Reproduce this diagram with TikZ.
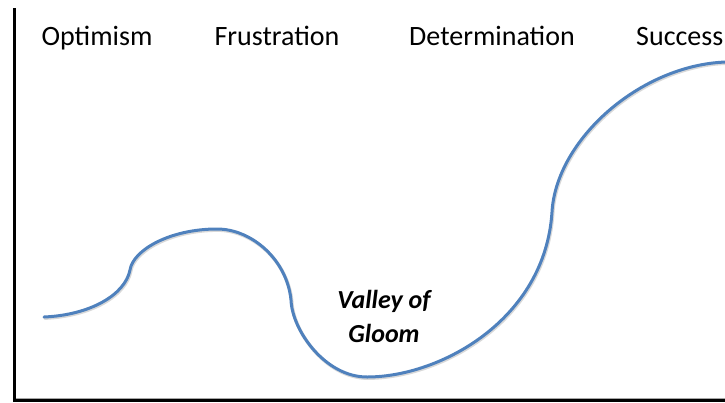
\documentclass[tikz,border=0pt]{standalone}
\usepackage{fontspec}
\setmainfont{Carlito}
\definecolor{curveblue}{HTML}{4F81BD}
\tikzset{
  axisline/.style={draw=black, line width=3pt},
  phase/.style={font=\fontsize{28}{32}\selectfont, inner sep=0pt, anchor=base},
  gloom/.style={font=\fontsize{26}{30}\selectfont\bfseries\itshape, inner sep=0pt, anchor=base},
  journey/.style={draw=curveblue, line width=3pt, line cap=round},
  journeyshadow/.style={draw=black!30, line width=3.4pt, line cap=round, opacity=0.5}
}
\begin{document}
\begin{tikzpicture}[x=1pt, y=-1pt]
\useasboundingbox (0,0) rectangle (725,402);
% axes
\coordinate (top) at (14.5,8);
\coordinate (origin) at (14.5,400.5);
\coordinate (right) at (726,400.5);
\draw[draw=black!35, line width=2pt] (14.5,398.5) -- (726,398.5);
\draw[axisline] (top) -- (origin) -- (right);
% labels
\node[phase] (opt) at (97,45) {Optimism};
\node[phase] (fru) at (277,45) {Frustration};
\node[phase] (det) at (492,45) {Determination};
\node[phase, anchor=base west] (suc) at (636,45) {Success};
\node[gloom] (valley) at (384,308) {Valley of};
\node[gloom] (gloomtxt) at (384,342) {Gloom};
% curve
\def\journeypath{(44,317) .. controls (90,315) and (125,295) .. (130,270)
  .. controls (133,250) and (170,229) .. (217,229)
  .. controls (252,229) and (287,260) .. (291,300)
  .. controls (292,330) and (325,377) .. (367,377)
  .. controls (440,377) and (545,320) .. (552,212)
  .. controls (556,140) and (640,65) .. (726,62)}
\begin{scope}[xshift=0.8pt, yshift=-1.2pt]
\draw[journeyshadow] \journeypath;
\end{scope}
\draw[journey] \journeypath;
\end{tikzpicture}
\end{document}
